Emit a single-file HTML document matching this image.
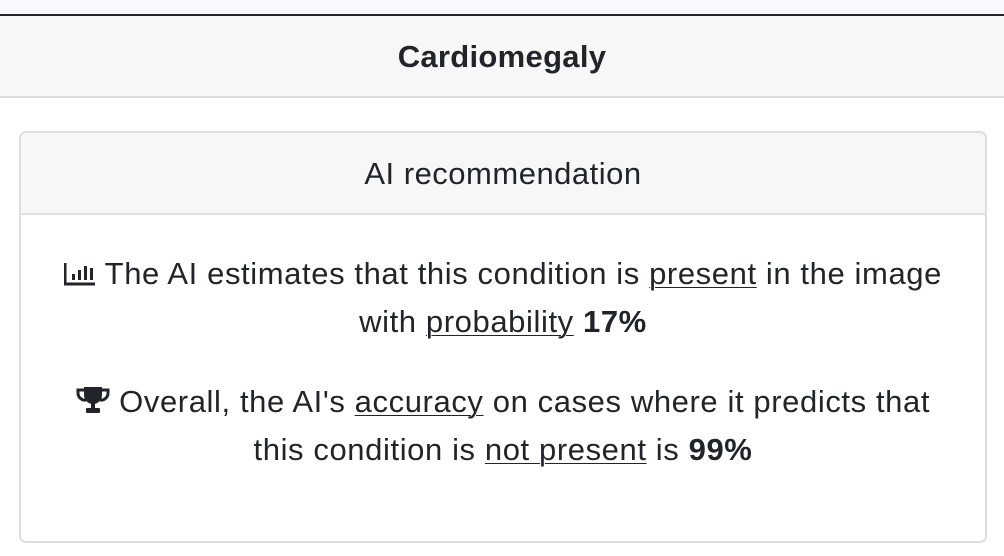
<!DOCTYPE html>
<html><head><meta charset="utf-8"><style>
html,body{margin:0;padding:0;width:1004px;height:556px;overflow:hidden;background:#fff;font-family:"Liberation Sans",Arial,sans-serif;color:#212529}
.topstrip{position:absolute;left:0;top:0;width:1004px;height:14px;background:#f8f9fa}
.topline{position:absolute;left:0;top:14px;width:1004px;height:2px;background:#222428}
.header{position:absolute;left:0;top:16px;width:1004px;height:80px;background:#f7f7f7;border-bottom:2px solid #dcdcdc;text-align:center;line-height:82px;font-weight:bold;font-size:31px;letter-spacing:0.3px}
.card{position:absolute;left:19px;top:131px;width:964px;height:408px;border:2px solid #dedede;border-radius:7px;overflow:hidden}
.card-header{height:80px;background:#f7f7f7;border-bottom:2px solid #dedede;text-align:center;line-height:82px;font-size:31px;letter-spacing:0.5px}
.body{text-align:center;font-size:31px;line-height:48px;padding-top:35px;letter-spacing:0.6px;white-space:nowrap}
.body p{margin:0 0 32px 0}
u{text-decoration:underline;text-underline-offset:3px;text-decoration-thickness:1px}
svg{vertical-align:-2px}
</style></head><body>
<div class="topstrip"></div>
<div class="topline"></div>
<div class="header">Cardiomegaly</div>
<div class="card">
<div class="card-header">AI recommendation</div>
<div class="body">
<p><svg width="32" height="24" viewBox="0 0 32 24"><path d="M1 1v21h30" stroke="#212529" stroke-width="3" fill="none"/><rect x="8" y="12" width="3" height="6" fill="#212529"/><rect x="14" y="8" width="3" height="10" fill="#212529"/><rect x="20" y="4" width="3" height="14" fill="#212529"/><rect x="26" y="6" width="3" height="12" fill="#212529"/></svg> The AI estimates that this condition is <u>present</u> in the image<br>with <u>probability</u> <b>17%</b></p>
<p><svg width="34" height="28" viewBox="0 0 34 28"><path d="M8 1h18v8a9 9 0 0 1-18 0z" fill="#212529"/><path d="M8 4H2v3a7 7 0 0 0 8 7M26 4h6v3a7 7 0 0 1-8 7" stroke="#212529" stroke-width="3" fill="none"/><rect x="15" y="16" width="4" height="6" fill="#212529"/><rect x="10" y="22" width="14" height="5" rx="1" fill="#212529"/></svg> Overall, the AI's <u>accuracy</u> on cases where it predicts that<br>this condition is <u>not present</u> is <b>99%</b></p>
</div></div>
</body></html>
